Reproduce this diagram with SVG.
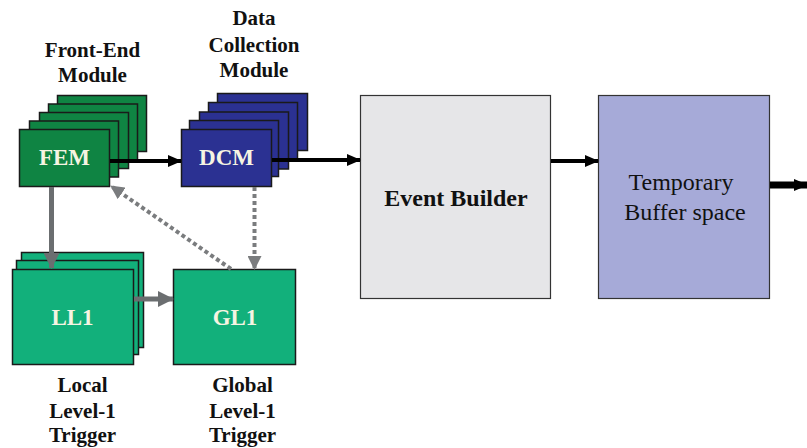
<svg xmlns="http://www.w3.org/2000/svg" width="807" height="448" viewBox="0 0 807 448">
<style>
.lbl{font-family:"Liberation Serif","Times New Roman",serif;font-weight:bold;font-size:21px;fill:#111;text-anchor:middle}
.inner{font-family:"Liberation Serif","Times New Roman",serif;font-weight:bold;font-size:23px;fill:#f6f4e2;text-anchor:middle}
.fem{fill:#0f8443;stroke:#1a1a1a;stroke-width:1.5}
.dcm{fill:#2b3192;stroke:#1a1a1a;stroke-width:1.5}
.trg{fill:#12b07b;stroke:#1a1a1a;stroke-width:1.5}
.blk{stroke:#000;stroke-width:4;fill:none}
.gry{stroke:#6b6e70;stroke-width:5;fill:none}
.dot{stroke:#7a7c7e;stroke-width:4;fill:none;stroke-dasharray:4 3}
</style>
<defs>
<marker id="ab" markerUnits="userSpaceOnUse" markerWidth="14" markerHeight="12" refX="13" refY="6" orient="auto"><path d="M0,0 L14,6 L0,12 Z" fill="#000"/></marker>
<marker id="ag" markerUnits="userSpaceOnUse" markerWidth="16" markerHeight="16" refX="15" refY="8" orient="auto"><path d="M0,0 L16,8 L0,16 Z" fill="#6b6e70"/></marker>
<marker id="ad" markerUnits="userSpaceOnUse" markerWidth="14" markerHeight="14" refX="13" refY="7" orient="auto"><path d="M0,0 L14,7 L0,14 Z" fill="#7a7c7e"/></marker>
</defs>
<rect width="807" height="448" fill="#fff"/>

<g id="fem">
<rect class="fem" x="57.5" y="95.5" width="89" height="56"/>
<rect class="fem" x="48.5" y="104" width="89" height="56"/>
<rect class="fem" x="39.5" y="112.5" width="89" height="56"/>
<rect class="fem" x="29.5" y="121" width="89" height="56"/>
<rect class="fem" x="19.5" y="129.5" width="90" height="57"/>
<text class="inner" x="64.5" y="165">FEM</text>
<text class="lbl" x="92.5" y="57">Front-End</text>
<text class="lbl" x="92.5" y="82">Module</text>
</g>

<g id="dcm">
<rect class="dcm" x="217.5" y="93.5" width="90" height="57"/>
<rect class="dcm" x="208.5" y="102.5" width="89" height="57.5"/>
<rect class="dcm" x="199.5" y="112" width="89" height="57"/>
<rect class="dcm" x="189.5" y="120.5" width="89" height="56"/>
<rect class="dcm" x="181.5" y="129.5" width="90" height="57"/>
<text class="inner" x="226.5" y="165">DCM</text>
<text class="lbl" x="254" y="25">Data</text>
<text class="lbl" x="254" y="52">Collection</text>
<text class="lbl" x="254" y="77">Module</text>
</g>

<g id="ll1">
<rect class="trg" x="21.5" y="252.5" width="122" height="95"/>
<rect class="trg" x="16.5" y="260.5" width="122" height="94"/>
<rect class="trg" x="12.5" y="269.5" width="121" height="95"/>
<text class="inner" x="72.5" y="325">LL1</text>
<text class="lbl" x="82.5" y="392">Local</text>
<text class="lbl" x="82.5" y="418">Level-1</text>
<text class="lbl" x="82.5" y="442">Trigger</text>
</g>

<g id="gl1">
<rect class="trg" x="173.5" y="269.5" width="122" height="95"/>
<text class="inner" x="235" y="325">GL1</text>
<text class="lbl" x="242.5" y="392">Global</text>
<text class="lbl" x="242.5" y="418">Level-1</text>
<text class="lbl" x="242.5" y="442">Trigger</text>
</g>

<g id="eventbuilder">
<rect x="360.5" y="95.5" width="190" height="203" fill="#e6e6e8" stroke="#333" stroke-width="1.2"/>
<text x="456" y="206" font-family="'Liberation Serif','Times New Roman',serif" font-weight="bold" font-size="24" fill="#111" text-anchor="middle">Event Builder</text>
</g>

<g id="buffer">
<rect x="598.5" y="95.5" width="171" height="203" fill="#a6aad8" stroke="#333" stroke-width="1.2"/>
<text x="681" y="190" font-family="'Liberation Serif','Times New Roman',serif" font-size="24" fill="#111" text-anchor="middle">Temporary</text>
<text x="685" y="220" font-family="'Liberation Serif','Times New Roman',serif" font-size="24" fill="#111" text-anchor="middle">Buffer space</text>
</g>

<g id="connectors">
<line class="blk" x1="110" y1="161" x2="181" y2="161" marker-end="url(#ab)"/>
<line class="blk" x1="272" y1="160" x2="360" y2="160" marker-end="url(#ab)"/>
<line class="blk" x1="551" y1="161" x2="598" y2="161" marker-end="url(#ab)"/>
<line stroke="#000" stroke-width="7" x1="770" y1="185" x2="807" y2="185" marker-end="url(#ab)"/>
<line class="gry" x1="51.5" y1="187" x2="51.5" y2="268" marker-end="url(#ag)"/>
<line class="gry" x1="134" y1="299" x2="173" y2="299" marker-end="url(#ag)"/>
<line class="dot" x1="254.5" y1="187" x2="254.5" y2="269" marker-end="url(#ad)"/>
<line class="dot" x1="231" y1="269" x2="111" y2="186" marker-end="url(#ad)"/>
</g>
</svg>
